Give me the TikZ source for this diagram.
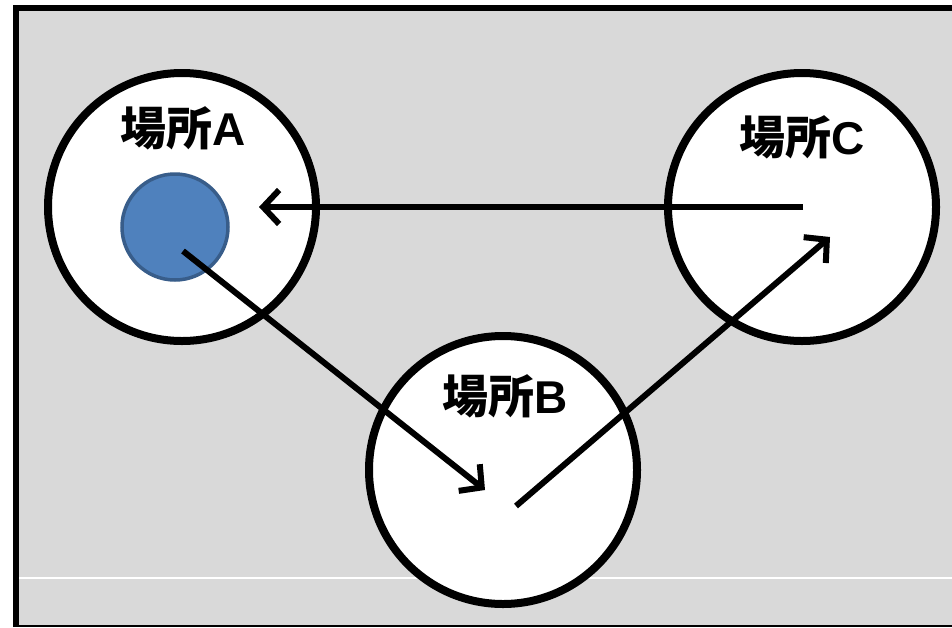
\documentclass[tikz,border=0pt]{standalone}
\usepackage{fontspec}
\setmainfont{Liberation Sans}
\newfontfamily\cjk{Noto Sans CJK JP}
\usetikzlibrary{arrows.meta}
\definecolor{bggray}{HTML}{D9D9D9}
\definecolor{dotblue}{HTML}{4F81BD}
\definecolor{dotedge}{HTML}{385D8A}
\tikzset{
  place/.style={circle, draw=black, line width=8pt, fill=white, minimum size=268pt, inner sep=0pt},
  lbl/.style={font=\fontsize{46}{46}\selectfont\bfseries, inner sep=0pt},
  conn/.style={line width=6pt, -{Straight Barb[length=16pt,width=34pt]}},
}
\newcommand{\placename}[1]{{\cjk\bfseries 場所}#1}
\begin{document}
\begin{tikzpicture}[x=1pt,y=-1pt]
\useasboundingbox (0,0) rectangle (952,627);
\fill[white] (0,0) rectangle (952,627);
\fill[bggray] (16,8) rectangle (952,627);
\draw[line width=2pt, white] (19,578) -- (952,578);
\draw[line width=2pt] (16,626) -- (952,626);
\draw[line width=5.5pt] (16,627) -- (16,8) -- (952,8);
\node[place] (A) at (182,207) {};
\node[place] (C) at (802,207) {};
\node[place] (B) at (503,470) {};
\node[circle, fill=dotblue, draw=dotedge, line width=3.5pt, minimum size=106pt, inner sep=0pt] (dot) at (175,227) {};
\coordinate (a1) at (183,251);
\coordinate (b1) at (485,490);
\coordinate (b2) at (516,506);
\coordinate (c1) at (830,237);
\coordinate (c2) at (803,207);
\coordinate (a2) at (259,207);
\draw[conn] (c2) -- (a2);
\draw[conn] (a1) -- (b1);
\draw[conn] (b2) -- (c1);
\node[lbl] (tA) at (183,128) {\placename{A}};
\node[lbl] (tC) at (802,137) {\placename{C}};
\node[lbl] (tB) at (505,396) {\placename{B}};
\end{tikzpicture}
\end{document}
